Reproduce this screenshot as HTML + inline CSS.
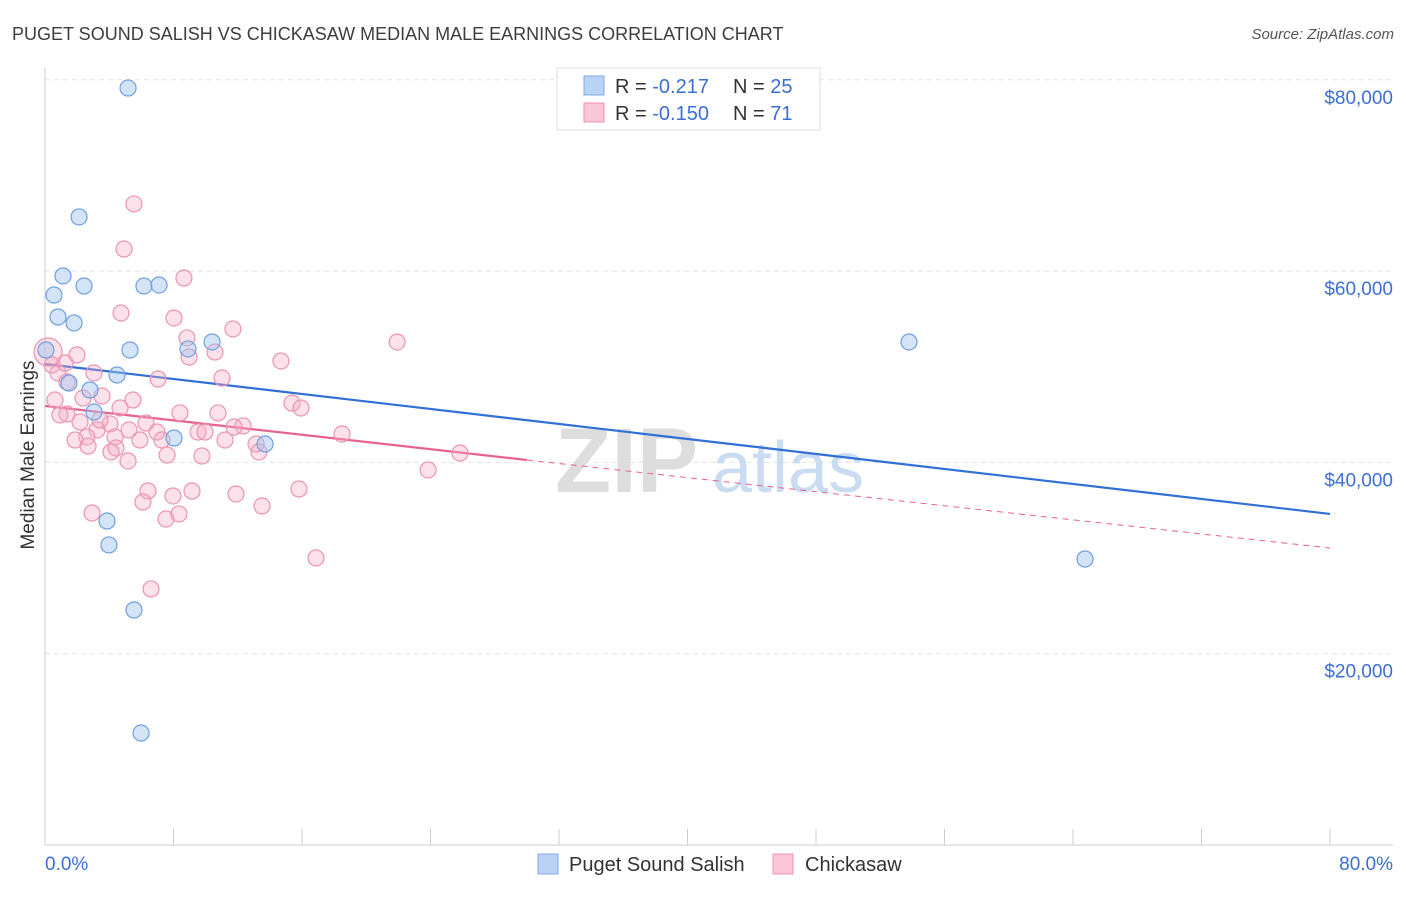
<!DOCTYPE html>
<html><head><meta charset="utf-8"><style>
body{margin:0;background:#fff;font-family:"Liberation Sans",sans-serif}
svg text{font-family:"Liberation Sans",sans-serif}
</style></head><body>
<svg width="1406" height="892" viewBox="0 0 1406 892">
<text x="12" y="40" font-size="18" fill="#3d3d3d">PUGET SOUND SALISH VS CHICKASAW MEDIAN MALE EARNINGS CORRELATION CHART</text>
<text x="1394" y="39" font-size="15" fill="#555" font-style="italic" text-anchor="end">Source: ZipAtlas.com</text>
<text x="34" y="455" font-size="19" fill="#333" text-anchor="middle" transform="rotate(-90 34 455)">Median Male Earnings</text>
<g id="grid"></g>
<g id="axes"></g>
<text x="555" y="492" font-size="92" fill="#ddd" font-family="Liberation Serif" font-weight="bold">ZIP</text>
<text x="712" y="492" font-size="72" fill="#c9dcf2">atlas</text>
<g id="trends"></g>
<g id="pts"></g>
<g>
<rect x="557" y="68" width="263" height="62" fill="#fff" stroke="#ddd"/>
<rect x="584" y="76" width="20" height="19" fill="#b9d3f5" stroke="#7eaae6"/>
<rect x="584" y="103" width="20" height="19" fill="#f9c6d6" stroke="#ee93b1"/>
<text x="615" y="93" font-size="20" fill="#333">R = <tspan fill="#3a6fd4"> -0.217</tspan></text>
<text x="733" y="93" font-size="20" fill="#333">N = <tspan fill="#3a6fd4">25</tspan></text>
<text x="615" y="120" font-size="20" fill="#333">R = <tspan fill="#3a6fd4">-0.150</tspan></text>
<text x="733" y="120" font-size="20" fill="#333">N = <tspan fill="#3a6fd4"> 71</tspan></text>
</g>
<g>
<rect x="538" y="854" width="20" height="20" fill="#b9d3f5" stroke="#7eaae6"/>
<text x="569" y="871" font-size="20" fill="#333">Puget Sound Salish</text>
<rect x="773" y="854" width="20" height="20" fill="#f9c6d6" stroke="#ee93b1"/>
<text x="805" y="871" font-size="20" fill="#333">Chickasaw</text>
</g>
</svg>
<script>
const xTicks=[0,8,16,24,32,40,48,56,64,72,80];
const yTicks=[20000,40000,60000,80000];
const yTickLabels=["$20,000","$40,000","$60,000","$80,000"];
const blueX=[5.17,2.12,1.12,2.43,0.56,6.16,7.10,0.81,1.81,10.40,5.29,8.90,0.06,4.48,1.49,2.80,3.05,8.03,13.70,3.86,3.98,5.54,5.98,53.79,64.75];
const blueY=[79140,65660,59490,58440,57500,58440,58550,55200,54580,52590,51750,51860,51750,49140,48300,47570,45270,42550,41920,33870,31370,24570,11710,52590,29900];
const pinkX=[5.54,4.92,8.65,4.73,8.03,11.70,8.84,21.92,10.58,1.99,8.97,14.69,0.44,0.81,3.05,7.04,11.02,1.37,0.62,2.37,15.38,15.94,3.55,8.40,10.77,1.37,2.18,4.05,6.29,12.33,11.77,3.24,5.23,9.53,2.61,4.36,6.97,1.87,7.28,11.21,13.14,18.49,2.68,4.42,4.11,7.60,9.77,13.32,25.84,5.17,23.85,2.93,6.41,7.97,9.15,11.89,15.81,13.51,6.10,7.53,8.34,16.87,6.60,0.19,1.25,3.42,9.96,5.48,0.93,5.91,4.67];
const pinkY=[67020,62310,59280,55620,55100,53950,53010,52590,51540,51230,51020,50600,50180,49350,49350,48720,48820,48410,46520,46730,46210,45690,46940,45170,45170,45060,44220,44020,44120,43810,43700,43390,43390,43180,42660,42660,43180,42340,42340,42340,41920,42970,41710,41510,41090,40770,40670,41090,40980,40150,39210,34710,37010,36490,37010,36700,37220,35440,35860,34080,34610,30010,26770,51540,50390,44430,43180,46520,44960,42340,45690];
const blueTrendX=[0,80], blueTrendY=[50290,34610];
const pinkTrendX=[0,30,80], pinkTrendY=[45900,40250,31050];
const NS="http://www.w3.org/2000/svg";
const X=v=>45+v*(1285/80), Y=v=>845-v*(191.3/20000);
function mk(p,t,a){const e=document.createElementNS(NS,t);for(const k in a)e.setAttribute(k,a[k]);p.appendChild(e);return e;}
const grid=document.getElementById('grid'),axes=document.getElementById('axes');
yTicks.forEach((v,i)=>{
 const l=mk(grid,'line',{x1:45,x2:1393,y1:Y(v),y2:Y(v),stroke:'#e2e2e2','stroke-dasharray':'5,4'});
 
 
 const t=mk(axes,'text',{x:1393,y:Y(v)+24,'font-size':19,fill:'#3a6fd4','text-anchor':'end'});
 t.textContent=yTickLabels[i];
 
 
});
mk(axes,'line',{x1:45,x2:45,y1:68,y2:845,stroke:'#ccc'});
mk(axes,'line',{x1:45,x2:1393,y1:845,y2:845,stroke:'#ccc'});
xTicks.forEach(v=>{const t=mk(axes,'line',{x1:X(v),x2:X(v),y1:829,y2:845,stroke:'#ccc'});
 
 });
const xl0=mk(axes,'text',{x:45,y:870,'font-size':19,fill:'#3a6fd4'});xl0.textContent='0.0%';


const xl1=mk(axes,'text',{x:1393,y:870,'font-size':19,fill:'#3a6fd4','text-anchor':'end'});xl1.textContent='80.0%';


const pts=document.getElementById('pts');
pinkX.forEach((x,i)=>{const c=mk(pts,'circle',{cx:X(x),cy:Y(pinkY[i]),r:i==63?14:8,fill:'rgba(246,170,196,0.35)',stroke:'#eb93b1','stroke-width':1.2});
 
 });
blueX.forEach((x,i)=>{const c=mk(pts,'circle',{cx:X(x),cy:Y(blueY[i]),r:8,fill:'rgba(160,195,240,0.45)',stroke:'#6f9fe0','stroke-width':1.2});
 
 });
const tr=document.getElementById('trends');
const b=mk(tr,'line',{x1:X(blueTrendX[0]),y1:Y(blueTrendY[0]),x2:X(blueTrendX[1]),y2:Y(blueTrendY[1]),stroke:'#2f6fd6','stroke-width':2.2});


const p1=mk(tr,'line',{x1:X(pinkTrendX[0]),y1:Y(pinkTrendY[0]),x2:X(pinkTrendX[1]),y2:Y(pinkTrendY[1]),stroke:'#e8628f','stroke-width':2.2});


const p2=mk(tr,'line',{x1:X(pinkTrendX[1]),y1:Y(pinkTrendY[1]),x2:X(pinkTrendX[2]),y2:Y(pinkTrendY[2]),stroke:'#e8628f','stroke-width':1,'stroke-dasharray':'6,5'});


</script>
</body></html>
